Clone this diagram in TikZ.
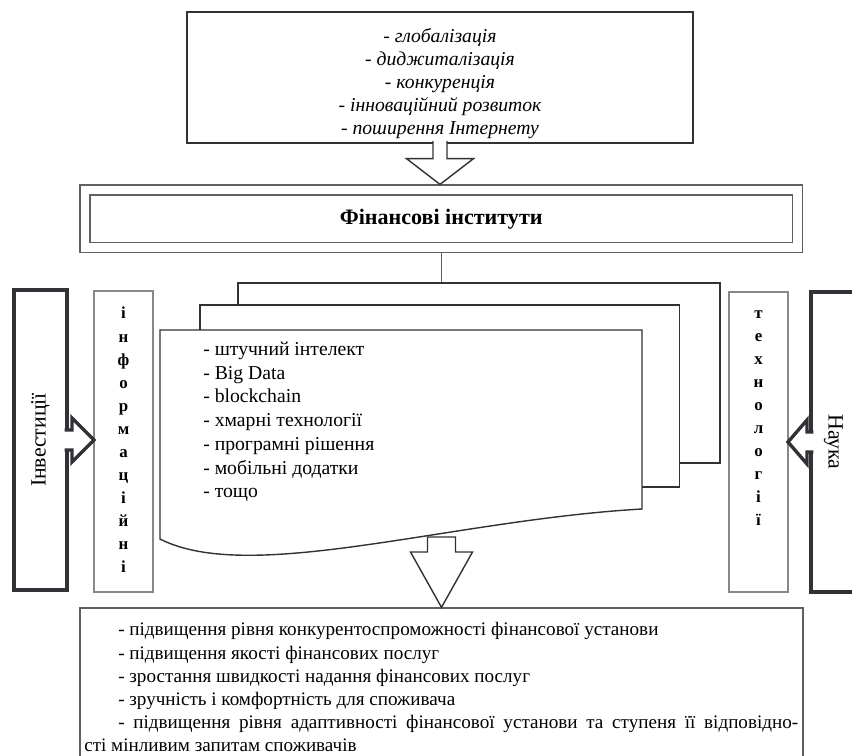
\documentclass[tikz,border=0pt]{standalone}
\usepackage{fontspec}
\setmainfont{Liberation Serif}
\usepackage{tikz}
\usetikzlibrary{calc}
\definecolor{linedark}{RGB}{50,50,54}
\definecolor{linemid}{RGB}{95,95,100}
\definecolor{linelight}{RGB}{135,135,140}
\tikzset{
  box/.style={
    draw=linemid,
    line width=0.9pt,
    fill=white,
    align=center,
    inner sep=0pt
  },
  framebox/.style={box, double=white, double distance=6.2pt, outer sep=4pt},
  sidebox/.style={box, draw=linelight, line width=1.1pt, outer sep=0pt},
  thickbox/.style={box, draw=linedark, line width=2.4pt, outer sep=0pt},
  docbox/.style={box, draw=linedark, line width=1pt},
  hollow/.style={draw=linedark, line width=1pt, fill=white, line join=miter},
  thickarrow/.style={hollow, line width=2.4pt},
  link/.style={draw=linemid, line width=1pt},
  letters/.style={font=\fontsize{12}{16.4}\selectfont\bfseries, align=center, inner sep=0pt}
}

\begin{document}
\begin{tikzpicture}
  \useasboundingbox (0,0) rectangle (21.3,-18.875);

  % top: driving factors
  \node[box,draw=linedark,minimum width=12.65cm,minimum height=3.275cm] (trends) at (11.0,-1.9375) {};
  \node[align=center,inner sep=0pt,font=\fontsize{14}{16.4}\selectfont\itshape]
    (trendstxt) at ($(trends)+(0,-0.16)$) {- глобалізація\\- диджиталізація\\- конкуренція\\- інноваційний розвиток\\- поширення Інтернету};

  \node[framebox,minimum width=17.81cm,minimum height=1.44cm,
        font=\fontsize{15.7}{18}\selectfont\bfseries]
    (fin) at (11.03,-5.47) {Фінансові інститути};

  \draw[hollow] ($(trends.south)+(-0.175,0.06)$) -- ($(trends.south)+(-0.175,-0.375)$)
    -- ($(trends.south)+(-0.8375,-0.375)$) -- (trends.south |- fin.north)
    -- ($(trends.south)+(0.8375,-0.375)$) -- ($(trends.south)+(0.175,-0.375)$)
    -- ($(trends.south)+(0.175,0.06)$);

  % stacked documents
  \node[docbox,minimum width=12.05cm,minimum height=4.5cm] (docback) at (11.975,-9.325) {};
  \node[docbox,minimum width=11.98cm,minimum height=4.55cm] (docmid) at (10.99,-9.9) {};
  \draw[docbox] (4.0,-8.25) -- (16.05,-8.25) -- (16.05,-12.725)
    .. controls (11.25,-13.0) and (6.25,-14.625) .. (4.0,-13.475) -- cycle;
  \node[anchor=west,align=left,inner sep=0pt,font=\fontsize{14}{16.9}\selectfont]
    (techlist) at (5.075,-10.55) {- штучний інтелект\\- Big Data\\- blockchain\\- хмарні технології\\- програмні рішення\\- мобільні додатки\\- тощо};
  \coordinate (docfoot) at (11.0375,-13.425);

  \draw[link] (fin.south) -- (fin.south |- docback.north);

  % side boxes
  \node[thickbox,minimum width=1.325cm,minimum height=7.5cm,
        font=\fontsize{15.5}{18}\selectfont]
    (invest) at (1.0125,-11.0) {\rotatebox{90}{Інвестиції}};
  \node[sidebox,minimum width=1.475cm,minimum height=7.525cm] (info) at (3.0875,-11.0375) {};
  \node[letters,anchor=north] (infotxt) at ($(info.north)+(0,-0.4)$)
    {і\\н\\ф\\о\\р\\м\\а\\ц\\і\\й\\н\\і};

  \node[sidebox,minimum width=1.475cm,minimum height=7.5cm] (tech) at (18.9625,-11.05) {};
  \node[letters,anchor=north] (techtxt) at ($(tech.north)+(0,-0.45)$)
    {т\\е\\х\\н\\о\\л\\о\\г\\і\\ї};
  \node[thickbox,minimum width=1.125cm,minimum height=7.5cm,
        font=\fontsize{15.5}{18}\selectfont]
    (science) at (20.8375,-11.05) {\rotatebox{-90}{Наука}};

  \draw[thickarrow] ($(invest.east)+(-0.06,0.25)$) -- ($(invest.east)+(0.125,0.25)$)
    -- ($(invest.east)+(0.125,0.55)$) -- (info.west |- invest.east)
    -- ($(invest.east)+(0.125,-0.55)$) -- ($(invest.east)+(0.125,-0.25)$)
    -- ($(invest.east)+(-0.06,-0.25)$);
  \draw[thickarrow] ($(science.west)+(0.06,0.25)$) -- ($(science.west)+(-0.1,0.25)$)
    -- ($(science.west)+(-0.1,0.55)$) -- (tech.east |- science.west)
    -- ($(science.west)+(-0.1,-0.55)$) -- ($(science.west)+(-0.1,-0.25)$)
    -- ($(science.west)+(0.06,-0.25)$);

  % results
  \node[box,minimum width=18.075cm,minimum height=3.8cm] (results) at (11.0375,-17.1) {};
  \node[anchor=north west,align=left,inner sep=0pt,font=\fontsize{13.6}{16.4}\selectfont]
    (gains) at (2.1,-15.56) {%
    \hspace*{0.85cm}- підвищення рівня конкурентоспроможності фінансової установи\\
    \hspace*{0.85cm}- підвищення якості фінансових послуг\\
    \hspace*{0.85cm}- зростання швидкості надання фінансових послуг\\
    \hspace*{0.85cm}- зручність і комфортність для споживача\\
    \hspace*{0.85cm}\makebox[17.0cm][s]{- підвищення рівня адаптивності фінансової установи та ступеня її відповідно-}\\
    сті мінливим запитам споживачів};

  \draw[hollow] ($(docfoot)+(-0.35,0)$) -- ($(docfoot)+(-0.35,-0.375)$)
    -- ($(docfoot)+(-0.775,-0.375)$) -- (results.north)
    -- ($(docfoot)+(0.775,-0.375)$) -- ($(docfoot)+(0.35,-0.375)$)
    -- ($(docfoot)+(0.35,0)$) -- cycle;
\end{tikzpicture}
\end{document}
